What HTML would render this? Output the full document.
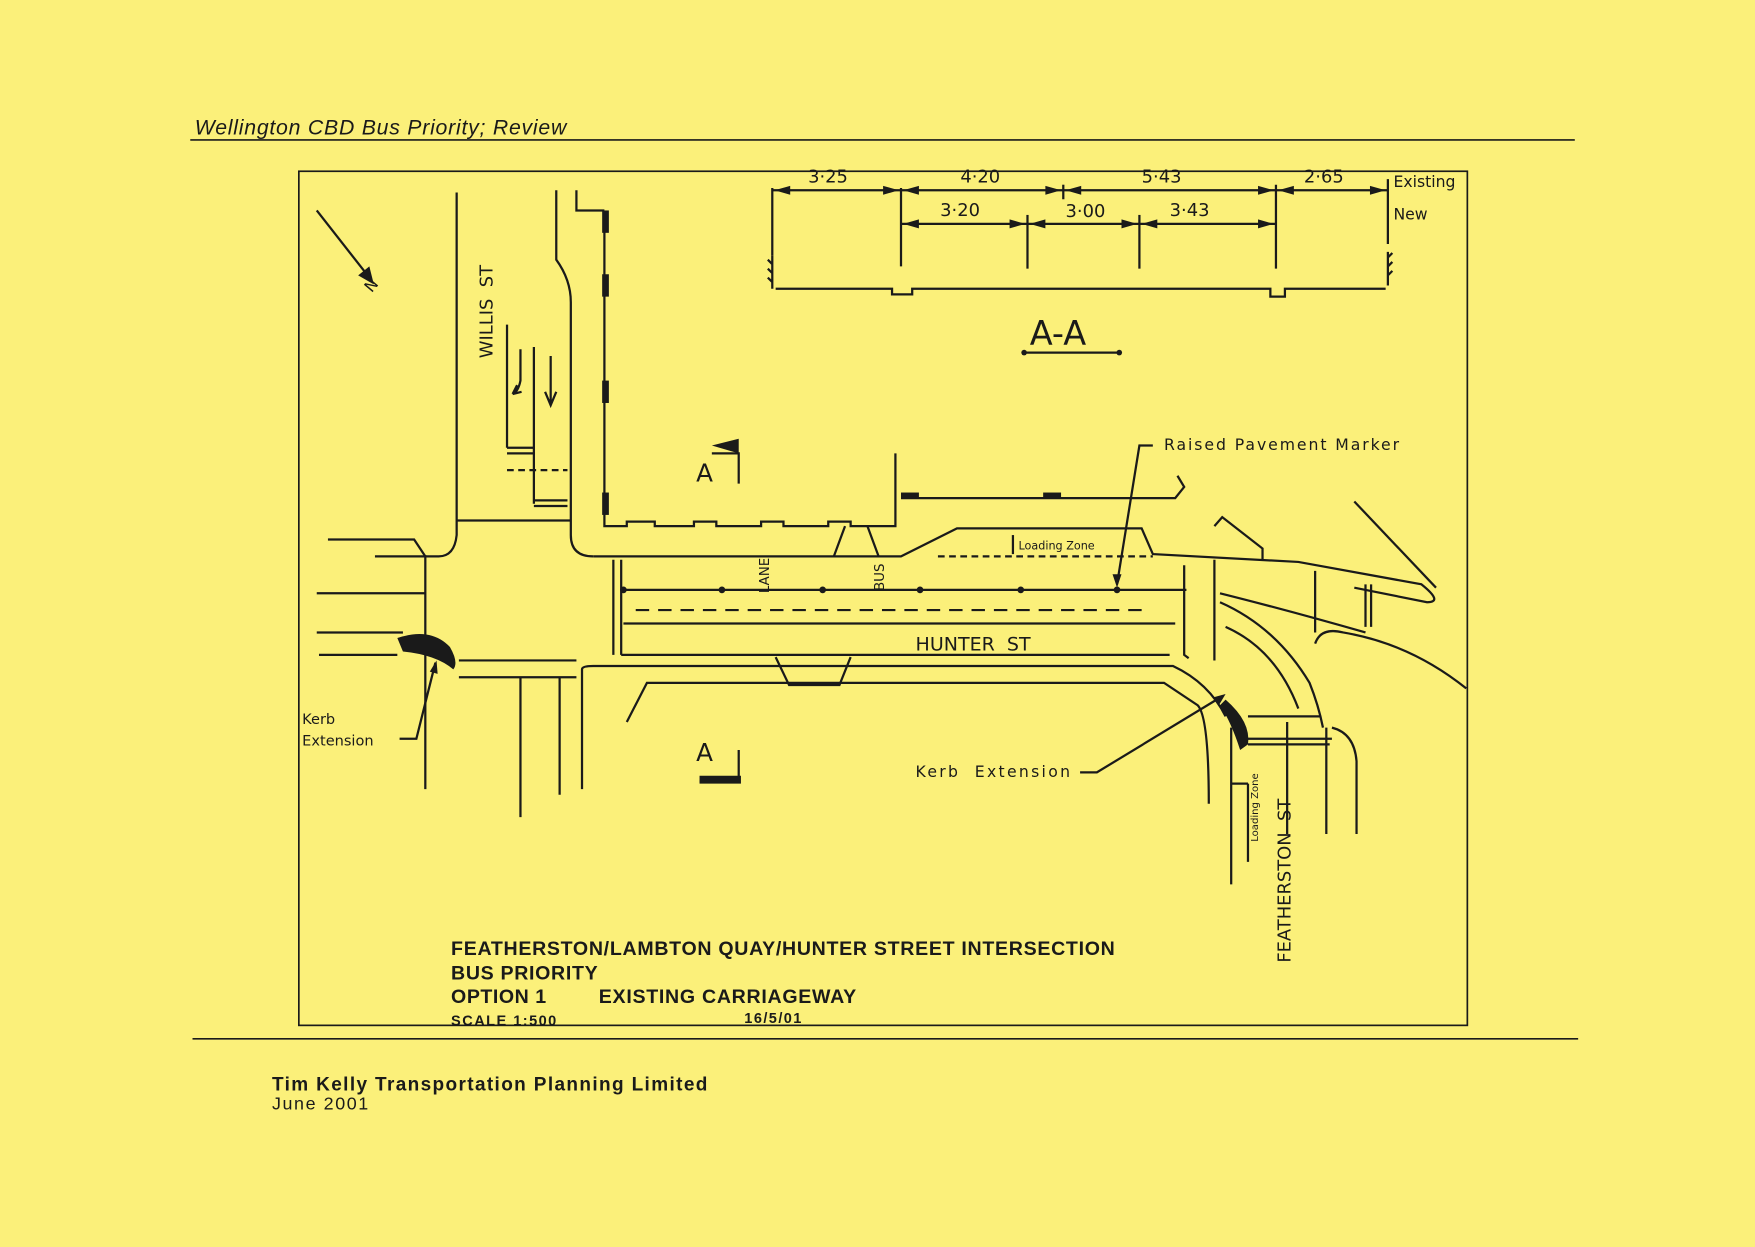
<!DOCTYPE html>
<html><head><meta charset="utf-8"><style>
html,body{margin:0;padding:0;background:#fbf07a;}
svg{display:block}
</style></head><body>
<svg width="1755" height="1247" viewBox="0 0 1568 1114" preserveAspectRatio="none" xmlns="http://www.w3.org/2000/svg">
<rect x="0" y="0" width="1568" height="1114" fill="#fbf07a"/>
<g font-family="Liberation Sans, sans-serif" fill="#1a1a1a">
<text x="174" y="120" font-size="19" font-style="italic" textLength="332">Wellington CBD Bus Priority; Review</text>
<text x="243" y="974" font-size="17" font-weight="bold" textLength="389">Tim Kelly Transportation Planning Limited</text>
<text x="243" y="991" font-size="16" textLength="86">June 2001</text>
<text x="403" y="853" font-size="17.5" font-weight="bold" textLength="593">FEATHERSTON/LAMBTON QUAY/HUNTER STREET INTERSECTION</text>
<text x="403" y="875" font-size="17.5" font-weight="bold" textLength="131">BUS PRIORITY</text>
<text x="403" y="896" font-size="17.5" font-weight="bold" textLength="85">OPTION 1</text>
<text x="535" y="896" font-size="17.5" font-weight="bold" textLength="230">EXISTING CARRIAGEWAY</text>
<text x="403" y="916" font-size="13" font-weight="bold" textLength="94">SCALE 1:500</text>
<text x="665" y="914" font-size="13" font-weight="bold" textLength="51">16/5/01</text>
</g>
<g stroke="#1a1a1a" fill="none" stroke-width="1.5">
<line x1="170" y1="125" x2="1407" y2="125"/>
<line x1="172" y1="928" x2="1410" y2="928"/>
<rect x="267" y="153" width="1044" height="763"/>
</g>
<g stroke="#1a1a1a" fill="none" stroke-width="2">
<line x1="690" y1="170" x2="1240" y2="170"/>
<line x1="805" y1="200" x2="1140" y2="200"/>
<line x1="690" y1="168" x2="690" y2="228"/>
<line x1="805" y1="168" x2="805" y2="238"/>
<line x1="950" y1="165" x2="950" y2="178"/>
<line x1="918" y1="192" x2="918" y2="240"/>
<line x1="1018" y1="192" x2="1018" y2="240"/>
<line x1="1140" y1="165" x2="1140" y2="240"/>
<line x1="1240" y1="160" x2="1240" y2="218"/>
<path d="M693 258 H797 V263 H815 V258 H1135 V265 H1148 V258 H1238"/>
<path d="M690 228 V258 M686 232 l4 4 M686 240 l4 4 M686 248 l4 4"/>
<path d="M1240 225 V255 M1240 230 l4 -4 M1240 238 l4 -4 M1240 246 l4 -4"/>
<line x1="915" y1="315" x2="1000" y2="315"/>
<line x1="283" y1="188" x2="330" y2="248"/>
</g>
<g fill="#1a1a1a">
<path d="M692 170 l14 -4 v8z M803 170 l-14 -4 v8z M807 170 l14 -4 v8z M948 170 l-14 -4 v8z M952 170 l14 -4 v8z M1138 170 l-14 -4 v8z M1142 170 l14 -4 v8z M1238 170 l-14 -4 v8z"/>
<path d="M807 200 l14 -4 v8z M916 200 l-14 -4 v8z M920 200 l14 -4 v8z M1016 200 l-14 -4 v8z M1020 200 l14 -4 v8z M1138 200 l-14 -4 v8z"/>
<path d="M334 254 l-14 -8 l10 -8z"/>
<path d="M998 525 l-4 -12 h8z"/>
<path d="M1095 620 l-6 10 l-5 -7z"/>
<path d="M390 590 l-6 10 l7 2z"/>
</g>
<g font-family="DejaVu Sans, sans-serif" fill="#1a1a1a">
<text x="722" y="163" font-size="16">3·25</text>
<text x="858" y="163" font-size="16">4·20</text>
<text x="1020" y="163" font-size="16">5·43</text>
<text x="1165" y="163" font-size="16">2·65</text>
<text x="840" y="193" font-size="16">3·20</text>
<text x="952" y="194" font-size="16">3·00</text>
<text x="1045" y="193" font-size="16">3·43</text>
<text x="1245" y="167" font-size="14">Existing</text>
<text x="1245" y="196" font-size="14">New</text>
<text x="920" y="308" font-size="30">A-A</text>
<text x="1040" y="402" font-size="14" textLength="210">Raised Pavement Marker</text>
<text x="818" y="581" font-size="17">HUNTER&#160;&#160;ST</text>
<text x="818" y="694" font-size="14" textLength="138">Kerb&#160;&#160;Extension</text>
<text x="270" y="647" font-size="13">Kerb</text>
<text x="270" y="666" font-size="13">Extension</text>
<text x="910" y="491" font-size="10">Loading Zone</text>
<text x="622" y="430" font-size="22">A</text>
<text x="622" y="680" font-size="22">A</text>
<text font-size="16" transform="translate(440,320) rotate(-90)">WILLIS&#160;&#160;ST</text>
<text font-size="16" transform="translate(1153,860) rotate(-90)">FEATHERSTON&#160;&#160;ST</text>
<text font-size="9" transform="translate(1124,752) rotate(-90)">Loading Zone</text>
<text font-size="12" transform="translate(687,530) rotate(-90)">LANE</text>
<text font-size="12" transform="translate(790,528) rotate(-90)">BUS</text>
<text font-size="14" transform="translate(332,262) rotate(-50)">N</text>
</g>
<g stroke="#1a1a1a" fill="none" stroke-width="2">
<path d="M408 172 V478 Q406 497 392 497 H380 L370 482 H293"/>
<path d="M335 497 H380 V705"/>
<path d="M497 170 V232 Q510 250 510 270 V478 Q510 497 530 497"/>
<path d="M515 170 V188 H540"/>
<path d="M540 188 V470 H560 V466 H585 V470 H620 V466 H640 V470 H680 V466 H700 V470 H740 V466 H760 V470 H800 V405"/>
<line x1="408" y1="465" x2="510" y2="465"/>
<line x1="453" y1="290" x2="453" y2="400"/>
<line x1="477" y1="310" x2="477" y2="450"/>
<path d="M453 400 H477 M453 405 H477 M477 447 H507 M477 452 H507"/>
<path d="M453 420 H507" stroke-dasharray="6 4"/>
<path d="M465 312 V340 Q463 350 458 352 M458 352 l4 -8 M458 352 l8 -2"/>
<path d="M492 318 V360 M487 350 l5 12 l5 -12"/>
<path d="M530 497 H805 L855 472 H1020 L1030 495 L1160 502 L1270 522 Q1290 538 1275 538 L1210 525"/>
<line x1="1210" y1="448" x2="1283" y2="525"/>
<path d="M805 445 H1050 L1058 435 L1052 425"/>
<path d="M1085 470 L1092 462 L1128 490 V500"/>
<path d="M745 497 L755 470 M775 470 L785 497"/>
<line x1="557" y1="527" x2="1060" y2="527"/>
<path d="M568 545 H1025" stroke-dasharray="12 8"/>
<line x1="557" y1="557" x2="1050" y2="557"/>
<line x1="555" y1="585" x2="1045" y2="585"/>
<line x1="548" y1="500" x2="548" y2="585"/>
<line x1="555" y1="500" x2="555" y2="585"/>
<path d="M838 497 H1030" stroke-dasharray="6 4"/>
<path d="M905 478 V495"/>
<path d="M520 705 V598 Q520 595 530 595 H1048 Q1080 610 1095 640"/>
<path d="M560 645 L578 610 H1040 L1070 630 Q1080 640 1080 718"/>
<path d="M693 587 L705 612 H750 L760 587"/>
<path d="M410 590 H515 M410 605 H515"/>
<line x1="465" y1="605" x2="465" y2="730"/>
<line x1="500" y1="605" x2="500" y2="710"/>
<path d="M283 530 H380 M283 565 H360 M285 585 H355"/>
<path d="M1058 505 V585 L1062 588"/>
<path d="M1085 500 V590"/>
<path d="M1100 650 V790"/>
<path d="M1115 700 V770 M1100 700 H1115"/>
<path d="M1150 645 V745 M1185 650 V745"/>
<path d="M1190 650 Q1210 655 1212 680 V745"/>
<path d="M1115 640 H1180 M1112 660 H1190 M1115 665 H1188"/>
<path d="M1090 538 Q1140 560 1170 610 Q1178 630 1182 650"/>
<path d="M1095 560 Q1140 580 1160 633"/>
<path d="M1090 530 Q1150 545 1220 565 M1175 510 V565"/>
<path d="M1175 575 Q1180 560 1200 565 Q1260 575 1310 615"/>
<path d="M1220 522 V560 M1225 522 V560"/>
<path d="M1030 398 H1018 L998 522"/>
<path d="M965 690 H980 L1092 622"/>
<path d="M357 660 H372 L389 592"/>
<path d="M636 405 H660 V432 M660 670 V698 H625"/>
</g>
<g fill="#1a1a1a">
<path d="M355 570 Q385 560 402 578 Q410 592 405 598 Q390 585 360 582z"/>
<path d="M1095 625 Q1118 645 1115 665 L1108 670 Q1100 645 1090 630z"/>
<path d="M636 398 L660 392 V405 Z"/>
<path d="M625 693 H662 V700 H625z"/>
<circle cx="557" cy="527" r="3"/><circle cx="645" cy="527" r="3"/><circle cx="735" cy="527" r="3"/>
<circle cx="822" cy="527" r="3"/><circle cx="912" cy="527" r="3"/><circle cx="998" cy="527" r="3"/>
<circle cx="915" cy="315" r="2.5"/><circle cx="1000" cy="315" r="2.5"/>
<rect x="538" y="188" width="6" height="20"/><rect x="538" y="245" width="6" height="20"/>
<rect x="538" y="340" width="6" height="20"/><rect x="538" y="440" width="6" height="20"/>
<rect x="805" y="440" width="16" height="5"/><rect x="932" y="440" width="16" height="5"/>
</g>
</svg>
</body></html>
